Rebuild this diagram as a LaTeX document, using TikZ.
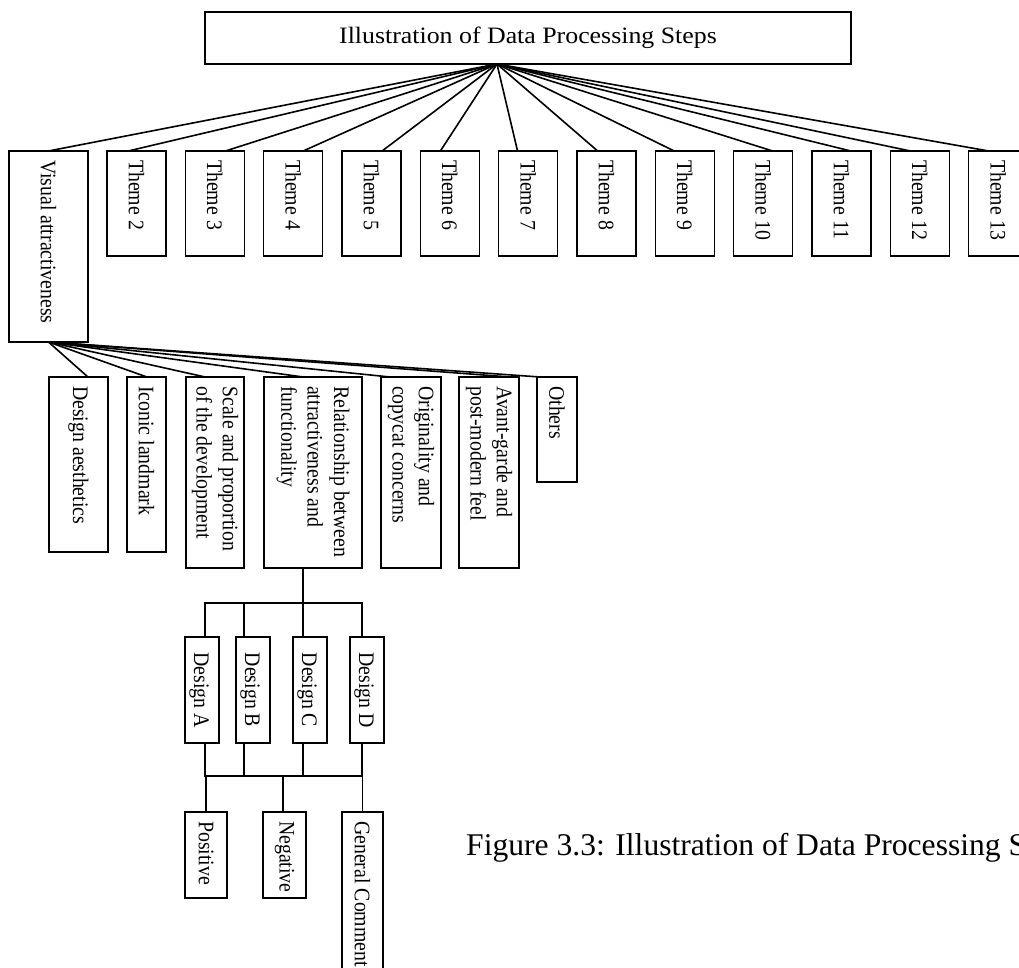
\documentclass[tikz,border=0pt]{standalone}
\usepackage{fontspec}
\setmainfont{Liberation Serif}
\usetikzlibrary{calc}

\newcommand\diagfont{\fontsize{19.8}{23.5}\selectfont}
\newcommand\headfont{\fontsize{23.5}{28}\selectfont}
\newcommand\capfont{\fontsize{31.6}{38}\selectfont}

\tikzset{
  box/.style={draw, line width=1.6pt, rectangle, anchor=north west,
              inner sep=0pt, outer sep=0pt},
  conn/.style={draw, line width=1.6pt},
  vt/.style={rotate=-90, yscale=1.12, anchor=west, align=left,
             inner sep=0pt, font=\diagfont},
  vtc/.style={rotate=-90, yscale=1.12, anchor=center,
              inner sep=0pt, font=\diagfont}
}

\begin{document}
\begin{tikzpicture}[x=1pt, y=-1pt]
\useasboundingbox (0,0) rectangle (1019,968);
\clip (0,0) rectangle (1019,968);

% root
\node[box, minimum width=646pt, minimum height=52pt] (title) at (205,12)
  {\scalebox{1.1}[1]{\headfont Illustration of Data Processing Steps}};
\coordinate (hub) at ($(title.south west)!0.452!(title.south east)$);

% first theme
\node[box, minimum width=79pt, minimum height=191pt] (vis) at (9,151) {};
\node[vt] (vis-l) at ($(vis.north)+(0,9)$) {Visual attractiveness};
\draw[conn] (hub) -- (vis.north);

% remaining themes
\foreach \i/\f in {2/0.36, 3/0.68, 4/0.67, 5/0.68, 6/0.34, 7/0.32,
                   8/0.35, 9/0.32, 10/0.66, 11/0.66, 12/0.34, 13/0.34} {
  \pgfmathsetmacro\xl{107+78.33*(\i-2)}
  \node[box, minimum width=59pt, minimum height=105pt] (t\i) at (\xl,151) {};
  \node[vt] (t\i-l) at ($(t\i.north)+(0,9)$) {Theme \i};
  \draw[conn] (hub) -- ($(t\i.north west)!\f!(t\i.north east)$);
}

% sub-themes of visual attractiveness
\foreach \n/\x/\w/\h/\f/\t in {
   da/49/59/175/0.66/{Design aesthetics},
   il/127/39/175/0.51/{Iconic landmark},
   sp/186/58/191/0.33/{Scale and proportion\\of the development},
   rel/264/98/191/0.40/{Relationship between\\attractiveness and\\functionality},
   orig/381/60/191/0.15/{Originality and\\copycat concerns},
   av/459/60/191/0.85/{Avant-garde and\\post-modern feel},
   oth/537/40/105/0.075/{Others}} {
  \node[box, minimum width=\w pt, minimum height=\h pt] (\n) at (\x,377) {};
  \node[vt] (\n-l) at ($(\n.north)+(0,9)$) {\t};
  \draw[conn] (vis.south) -- ($(\n.north west)!\f!(\n.north east)$);
}

% designs
\foreach \n/\x/\t in {dA/185/Design A, dB/236/Design B,
                      dC/293/Design C, dD/350/Design D} {
  \node[box, minimum width=34pt, minimum height=106pt] (\n) at (\x,637) {};
  \node[vtc] (\n-l) at ($(\n.center)+(-3,0)$) {\t};
}

% comment types
\node[box, minimum width=42pt, minimum height=86pt] (pos) at (185,812) {};
\node[vt] (pos-l) at ($(pos.north)+(0,9)$) {Positive};
\node[box, minimum width=43pt, minimum height=86pt] (neg) at (263,812) {};
\node[vt] (neg-l) at ($(neg.north)+(0,9)$) {Negative};
\node[box, minimum width=41pt, minimum height=175pt] (gen) at (342,812) {};
\node[vt] (gen-l) at ($(gen.north)+(0,9)$) {General Comment};

% tree below the relationship box
\coordinate (j1) at (303,603);
\coordinate (j2) at (303,776);
\draw[conn] ($(rel.south west)!0.398!(rel.south east)$) -- (j1);
\draw[conn] (j1) -| ($(dA.north west)!0.59!(dA.north east)$);
\draw[conn] (j1) -| ($(dB.north west)!0.24!(dB.north east)$);
\draw[conn] (j1) -| ($(dC.north west)!0.29!(dC.north east)$);
\draw[conn] (j1) -| ($(dD.north west)!0.35!(dD.north east)$);
\draw[conn] ($(dA.south west)!0.59!(dA.south east)$) |- (j2);
\draw[conn] ($(dB.south west)!0.24!(dB.south east)$) |- (j2);
\draw[conn] ($(dC.south west)!0.29!(dC.south east)$) |- (j2);
\draw[conn] ($(dD.south west)!0.35!(dD.south east)$) |- (j2);
\draw[conn] (j2) -| (pos.north);
\draw[conn] (j2) -| ($(neg.north west)!0.47!(neg.north east)$);
\draw[conn] (j2) -| (gen.north);

% caption
\node[anchor=base west, inner sep=0pt, font=\capfont] (cap) at (466,855)
  {Figure 3.3: Illustration of Data Processing Steps};
\end{tikzpicture}
\end{document}
